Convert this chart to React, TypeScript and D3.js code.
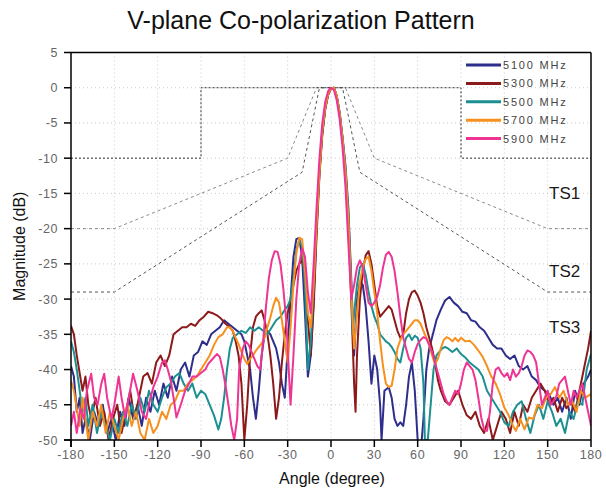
import React from 'react';
import * as d3 from 'd3';

type Pt = [number, number];

// measured patterns, [angle (deg), magnitude (dB)]
const s5100: Pt[] = [[-180,-39.5],[-178,-41],[-176,-46],[-174,-44],[-172,-49],[-170,-47],[-167,-50],[-164,-46],[-161,-48],[-158,-45],[-155,-49],[-152,-47],[-149,-50],[-146,-46],[-143,-48],[-140,-44],[-137,-47],[-134,-45],[-131,-48],[-128,-44],[-125,-46],[-122,-43],[-119,-45],[-116,-42],[-113,-44],[-110,-41],[-107,-43],[-104,-40],[-101,-39],[-98,-41],[-95,-38],[-92,-37.5],[-89,-36],[-86,-36.5],[-83,-35],[-80,-34.5],[-77,-34],[-74,-33],[-71,-33.5],[-68,-34],[-65,-34.5],[-62,-35],[-60,-36],[-58,-38],[-56,-40],[-54,-44],[-52,-47],[-50,-43],[-48,-38],[-46,-35],[-44,-34.5],[-42,-35],[-40,-36],[-38,-37],[-36,-39],[-34,-42],[-32,-44],[-30,-37],[-28,-30],[-26,-24],[-24,-21.5],[-22,-21.3],[-20,-24],[-18,-32],[-16,-41],[-14,-38],[-12,-30],[-10,-20],[-8,-12],[-6,-6.5],[-4,-3],[-2,-1],[0,-0.1],[2,0],[4,-1.2],[6,-3.5],[8,-7],[10,-11],[12,-17],[14,-27],[16,-38],[18,-30],[20,-27.5],[22,-28],[24,-31],[26,-36],[28,-42],[30,-38],[32,-40],[34,-45],[35,-50],[37,-43],[40,-42.5],[42,-44],[44,-47],[46,-48],[48,-47.5],[50,-48],[52,-45],[54,-41],[56,-39],[58,-43],[60,-50],[62,-52],[64,-47],[66,-40],[68,-37],[70,-35.4],[73,-33],[76,-31.5],[79,-30.2],[82,-29.7],[85,-30.5],[88,-31],[91,-31.8],[94,-32],[97,-33],[100,-33.2],[103,-34],[106,-34.5],[109,-35.5],[112,-36.5],[115,-37],[118,-37],[121,-38],[124,-38.5],[127,-38],[130,-39.5],[133,-40],[136,-39.5],[139,-41],[142,-41.5],[145,-42.5],[148,-43],[151,-43.5],[154,-45],[157,-44],[160,-46],[163,-44],[166,-47],[169,-43],[172,-45],[175,-42],[178,-41],[180,-40]];

const s5300: Pt[] = [[-180,-33.8],[-178,-35],[-176,-38],[-174,-40.5],[-172,-43],[-170,-41],[-168,-45],[-166,-47],[-163,-44],[-160,-48],[-157,-46],[-154,-50],[-151,-47],[-148,-45],[-145,-49],[-142,-46],[-139,-43],[-136,-47],[-133,-44],[-130,-41],[-127,-40.5],[-124,-42],[-121,-39],[-118,-38],[-115,-39.5],[-112,-38],[-109,-35],[-106,-34.5],[-103,-34],[-100,-34],[-97,-33.5],[-94,-33.8],[-91,-33],[-88,-32.5],[-85,-31.8],[-82,-32],[-79,-32.3],[-76,-32.8],[-73,-33.5],[-70,-34],[-68,-34.5],[-66,-36],[-64,-38],[-62,-42],[-60,-50],[-58,-45],[-56,-38],[-54,-34],[-52,-32.5],[-50,-32],[-48,-31.6],[-46,-33],[-44,-35],[-42,-38],[-40,-42],[-38,-47],[-36,-44],[-34,-39],[-32,-35],[-30,-32],[-28,-30],[-26,-28],[-24,-26],[-22,-25],[-20,-24.5],[-18,-27],[-16,-33],[-14,-38],[-12,-31],[-10,-21],[-8,-12.5],[-6,-6.5],[-4,-3],[-2,-1],[0,-0.1],[2,0],[4,-1.3],[6,-3.8],[8,-7.5],[10,-12],[12,-19],[14,-30],[16,-42],[17,-46],[18,-38],[20,-30],[22,-26],[24,-23.8],[26,-23.2],[28,-25],[30,-28],[32,-31],[34,-32.5],[36,-32],[38,-31.5],[40,-31],[42,-31.5],[44,-33],[46,-34.5],[48,-35.5],[50,-35],[52,-32],[54,-30],[56,-29],[58,-28.8],[60,-29.5],[62,-30.5],[64,-32],[66,-34],[68,-35.5],[70,-37],[72,-39],[74,-41.5],[76,-43],[79,-44.5],[82,-45],[85,-44],[88,-43],[91,-45],[94,-46.5],[97,-47],[100,-46],[103,-48],[106,-49],[109,-47],[112,-50],[115,-48],[118,-46],[121,-47],[124,-49],[127,-46],[130,-48],[133,-45],[136,-46],[139,-44],[142,-43],[145,-42],[148,-43],[151,-45],[154,-44],[157,-46],[160,-44],[163,-45.5],[166,-44.5],[169,-46],[172,-43],[175,-40],[178,-37],[180,-34.5]];

const s5500: Pt[] = [[-180,-36],[-178,-37.5],[-176,-40],[-174,-43],[-172,-46],[-170,-44],[-168,-48],[-165,-45],[-162,-49],[-159,-46],[-156,-48],[-153,-50],[-150,-47],[-147,-49],[-144,-46],[-141,-48],[-138,-45],[-135,-47],[-132,-44],[-129,-46],[-126,-43],[-123,-45],[-120,-46],[-117,-44],[-114,-42.5],[-111,-42],[-108,-41],[-105,-40.5],[-102,-42],[-99,-43],[-96,-42],[-93,-44],[-90,-43],[-87,-43.5],[-84,-45],[-81,-46.5],[-78,-48.5],[-76,-47],[-74,-44],[-72,-40],[-70,-37],[-68,-35.5],[-65,-35],[-62,-34.5],[-59,-34.8],[-56,-34],[-53,-34.5],[-50,-34],[-47,-34.5],[-44,-35],[-41,-34],[-38,-33],[-35,-32.5],[-32,-31.5],[-30,-31],[-28,-30],[-26,-27],[-24,-23],[-22,-21.7],[-20,-22.5],[-18,-28],[-16,-40],[-14,-36],[-12,-28],[-10,-19],[-8,-11.5],[-6,-6],[-4,-2.8],[-2,-0.9],[0,-0.1],[2,0],[4,-1.2],[6,-3.6],[8,-7.2],[10,-11.5],[12,-18],[14,-28],[15,-35],[16,-32],[18,-28],[20,-25.5],[22,-25],[24,-26.5],[26,-29],[28,-31],[30,-32.5],[32,-33.5],[34,-35],[36,-35.5],[38,-36],[40,-36.3],[42,-36.8],[44,-37.5],[46,-38.5],[48,-39],[50,-37],[52,-35.5],[54,-35],[56,-35.8],[58,-35.2],[60,-35.5],[62,-37],[64,-42],[65,-50],[67,-50],[69,-45],[71,-40],[73,-38],[75,-37.5],[77,-37],[79,-36.8],[81,-37],[84,-37.5],[87,-37],[90,-37.8],[93,-38.3],[96,-39],[99,-39.5],[102,-40],[105,-41],[108,-43],[111,-44],[114,-45],[117,-46],[120,-47.5],[123,-48],[126,-46],[129,-45],[132,-44.5],[135,-47],[138,-49],[141,-46.5],[144,-45],[147,-47],[150,-44.5],[153,-46],[156,-48],[159,-47],[162,-49],[165,-46],[168,-47],[171,-44.5],[174,-45],[177,-40],[180,-37.8]];

const s5700: Pt[] = [[-180,-41.6],[-178,-43],[-176,-45.5],[-174,-48],[-172,-44],[-170,-47],[-168,-50],[-165,-46],[-162,-48],[-159,-45],[-156,-49],[-153,-46],[-150,-48],[-147,-50],[-144,-47],[-141,-45],[-138,-48],[-135,-46],[-132,-49],[-129,-50],[-126,-47],[-123,-49],[-120,-48],[-117,-46],[-114,-47],[-111,-45],[-108,-44.5],[-105,-43],[-102,-43],[-99,-42],[-96,-41.5],[-93,-41],[-90,-40],[-87,-39],[-84,-38],[-81,-36.5],[-78,-35.4],[-75,-35],[-72,-34],[-70,-34],[-68,-34.5],[-66,-35.5],[-64,-36.4],[-62,-37.5],[-60,-38.5],[-58,-39.2],[-56,-38.5],[-54,-38],[-52,-37.3],[-50,-36.8],[-48,-36.3],[-46,-35.5],[-44,-34],[-42,-32.6],[-40,-31],[-38,-29.8],[-36,-30.5],[-34,-33],[-32,-36],[-30,-39],[-28,-34],[-26,-28],[-24,-23.5],[-22,-21.3],[-20,-21.5],[-18,-26],[-16,-32],[-14,-34],[-12,-28],[-10,-19.5],[-8,-12],[-6,-6],[-4,-2.8],[-2,-0.9],[0,-0.1],[2,0],[4,-1.2],[6,-3.7],[8,-7.3],[10,-11.8],[12,-18.5],[14,-29],[16,-37],[18,-32],[20,-27.5],[22,-25.5],[24,-24.3],[26,-24],[28,-26],[30,-29],[32,-32],[34,-36],[36,-39.5],[38,-42],[40,-42.5],[42,-42.3],[44,-40],[46,-37],[48,-35.8],[50,-35],[52,-34.5],[54,-34],[56,-33.5],[58,-33],[60,-33],[62,-33.5],[64,-34.5],[66,-35.5],[68,-36.5],[70,-38],[72,-39.2],[74,-38.5],[76,-37],[78,-35.8],[80,-35.4],[82,-35.6],[84,-36],[86,-35.5],[88,-36],[90,-35.5],[93,-36],[96,-35.9],[99,-36.5],[102,-37.3],[105,-38.2],[108,-39.5],[111,-41],[114,-42],[117,-43.5],[120,-45.4],[123,-46.5],[126,-48],[128,-48.7],[131,-47],[134,-48.5],[137,-46.8],[140,-47],[143,-45],[146,-45.5],[149,-44],[152,-43.5],[155,-42.5],[158,-44],[161,-43],[164,-45],[167,-44.5],[170,-46],[173,-43],[176,-44],[180,-43.5]];

const s5900: Pt[] = [[-180,-48],[-178,-46],[-176,-49],[-173.5,-45.5],[-171,-47],[-169,-43],[-166,-40.6],[-164,-44],[-161.6,-45],[-159,-42],[-157,-40.6],[-155,-44],[-152,-47],[-150,-45],[-147,-41],[-145,-44],[-142.5,-46.8],[-140,-44],[-137,-40.6],[-134,-43],[-131,-46],[-128,-47],[-125,-44],[-123,-42.5],[-120,-41],[-117,-39],[-115,-38.7],[-113,-40],[-111,-41.5],[-109,-44],[-107,-46.8],[-104,-45],[-101,-43],[-99,-42.3],[-96,-41],[-93,-41],[-90,-40.5],[-87,-40],[-85,-39.2],[-82,-38.5],[-79,-37.8],[-77,-38.2],[-75,-40],[-73,-42.3],[-71,-45],[-69,-48],[-67,-50],[-65,-47],[-63.6,-40],[-61,-37],[-59,-36],[-57,-36.5],[-55,-37.5],[-53,-38.5],[-51,-39.5],[-49,-40],[-47,-36],[-45,-31],[-43,-27],[-41,-24.5],[-39,-23.2],[-37,-23.3],[-35,-25],[-33,-28.5],[-31,-33],[-30,-37],[-28,-45],[-26,-38],[-24,-30],[-22,-25],[-20,-22.8],[-18,-24],[-16,-29],[-14,-32],[-12,-25],[-10,-17],[-8,-10],[-6,-5],[-4,-2],[-2,-0.5],[0,0],[2,-0.3],[4,-1.8],[6,-4.5],[8,-8.5],[10,-14],[12,-22],[14,-30],[16,-28],[18,-25.5],[20,-24.5],[22,-25.5],[24,-28],[26,-30.5],[28,-31],[30,-30.5],[32,-29.7],[34,-28],[36,-25.5],[38,-23.7],[40,-23.3],[42,-24],[44,-26],[46,-29],[48,-32.5],[50,-35.5],[52,-37],[54,-38.5],[56,-39],[58,-37.5],[60,-36.4],[62,-35.8],[64,-35.4],[66,-35.6],[68,-36.5],[70,-37.5],[72,-39],[74,-40.5],[76,-42],[78,-43.5],[80,-44.5],[82,-45],[84,-44],[86,-43],[88,-43.5],[90,-42],[92,-40],[94,-39],[96,-39.5],[98,-40],[100,-41.5],[102,-44],[104,-46.8],[106,-48.5],[108,-48.7],[110,-46],[112,-42],[114,-40],[116,-39.7],[118,-40.5],[120,-41],[122,-40.5],[124,-41.5],[126,-40],[128,-41],[130,-40.5],[132,-39.5],[134,-38],[136,-37.3],[138,-37.5],[140,-38],[142,-39],[144,-42],[146,-45],[148,-44],[150,-43],[152,-45],[154,-44.5],[156,-43.8],[158,-42],[160,-41.5],[162,-41],[164,-43],[166,-45],[168,-43],[170,-44],[172,-43],[174,-42],[176,-44],[178,-46],[180,-48]];

// masks
const maskRect: Pt[] = [[-180,-10],[-90,-10],[-90,0],[90,0],[90,-10],[180,-10]];
const maskTS1: Pt[] = [[-180,-20],[-150,-20],[-90,-15],[-30,-10],[-10,0],[10,0],[30,-10],[90,-15],[150,-20],[180,-20]];
const maskTS2: Pt[] = [[-180,-29],[-150,-29],[-20,-12],[-8,0],[8,0],[20,-12],[150,-29],[180,-29]];

const seriesNames = ['5100 MHz', '5300 MHz', '5500 MHz', '5700 MHz', '5900 MHz'];
const seriesData = [s5100, s5300, s5500, s5700, s5900];
const seriesColors = ['#2e2e8c', '#8c1a1a', '#1c9090', '#f7901e', '#ee3594'];

const xTicks = d3.range(-180, 181, 30);
const yTicks = d3.range(-50, 6, 5);
const tsLabels: [string, number][] = [['TS1', -15], ['TS2', -26], ['TS3', -34]];

const W = 606;
const H = 491;
const left = 71, right = 591, top = 52.5, bottom = 440;
const font = "Arial, 'Liberation Sans', sans-serif";

export default function App() {
  const x = d3.scaleLinear().domain([-180, 180]).range([left, right]);
  const y = d3.scaleLinear().domain([-50, 5]).range([bottom, top]);
  const line = d3.line<Pt>().x(d => x(d[0])).y(d => y(d[1]));

  return (
    <svg width={W} height={H} style={{ position: 'absolute', left: 0, top: 0, background: '#fff' }}>
      <defs>
        <clipPath id="plot-clip">
          <rect x={left} y={top} width={right - left} height={bottom - top} />
        </clipPath>
      </defs>
      <text x={301} y={29} textAnchor="middle" fontFamily={font} fontSize={25} fill="#111">
        V-plane Co-polarization Pattern
      </text>

      {/* grid */}
      <g stroke="#c8c8c8" strokeWidth={1} strokeDasharray="1,3">
        {xTicks.slice(1, -1).map(t => (
          <line key={'gx' + t} x1={x(t)} x2={x(t)} y1={top} y2={bottom} />
        ))}
        {yTicks.slice(1, -1).map(t => (
          <line key={'gy' + t} x1={left} x2={right} y1={y(t)} y2={y(t)} />
        ))}
      </g>

      {/* masks */}
      <path d={line(maskTS1) || ''} fill="none" stroke="#8a8a8a" strokeWidth={1} strokeDasharray="3,3" />
      <path d={line(maskTS2) || ''} fill="none" stroke="#555" strokeWidth={1} strokeDasharray="3,3" />
      <path d={line(maskRect) || ''} fill="none" stroke="#333" strokeWidth={1} strokeDasharray="2,2" />

      {tsLabels.map(([t, v]) => (
        <text key={t} x={549} y={y(v) + 6} fontFamily={font} fontSize={17} fill="#1a1a1a">{t}</text>
      ))}

      {/* data */}
      <g clipPath="url(#plot-clip)">
        {seriesData.map((s, i) => (
          <path key={seriesNames[i]} d={line(s) || ''} fill="none" stroke={seriesColors[i]}
            strokeWidth={2} strokeLinejoin="round" />
        ))}
      </g>

      {/* legend */}
      {seriesNames.map((n, i) => {
        const ly = 65 + i * 18.4;
        return (
          <g key={'lg' + n}>
            <line x1={466} x2={501} y1={ly} y2={ly} stroke={seriesColors[i]} strokeWidth={3} />
            <text x={503} y={ly + 4} fontFamily={font} fontSize={11} letterSpacing={1.8} fill="#444">{n}</text>
          </g>
        );
      })}

      {/* frame and axes */}
      <line x1={left} x2={right} y1={top} y2={top} stroke="#000" strokeWidth={1.5} />
      <line x1={right} x2={right} y1={top} y2={bottom} stroke="#000" strokeWidth={1.5} />
      <line x1={left} x2={left} y1={top} y2={bottom + 7} stroke="#000" strokeWidth={1.5} />
      <line x1={left - 7} x2={right} y1={bottom} y2={bottom} stroke="#000" strokeWidth={1.5} />
      {xTicks.map(t => (
        <g key={'xt' + t}>
          <line x1={x(t)} x2={x(t)} y1={bottom} y2={bottom + 7} stroke="#000" strokeWidth={1.5} />
          <text x={x(t)} y={bottom + 19} textAnchor="middle" fontFamily={font} fontSize={12.5}
            letterSpacing={0.6} fill="#666">{t}</text>
        </g>
      ))}
      {yTicks.map(t => (
        <g key={'yt' + t}>
          <line x1={left - 7} x2={left} y1={y(t)} y2={y(t)} stroke="#000" strokeWidth={1.5} />
          <text x={58} y={y(t) + 4.5} textAnchor="end" fontFamily={font} fontSize={12.5}
            letterSpacing={0.6} fill="#666">{t}</text>
        </g>
      ))}
      <text x={332} y={484} textAnchor="middle" fontFamily={font} fontSize={16} fill="#111">Angle (degree)</text>
      <text transform={`translate(25,${(top + bottom) / 2}) rotate(-90)`} textAnchor="middle"
        fontFamily={font} fontSize={16} fill="#111">Magnitude (dB)</text>
    </svg>
  );
}
